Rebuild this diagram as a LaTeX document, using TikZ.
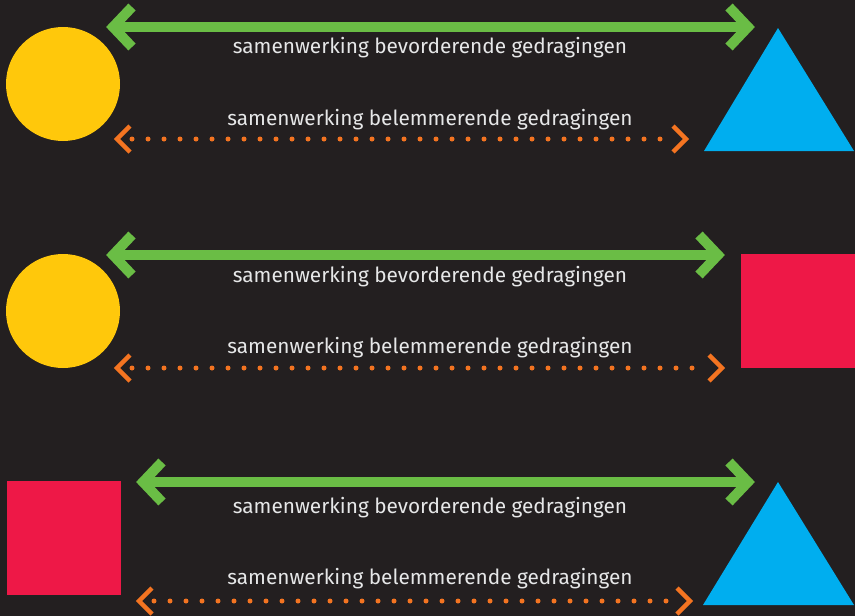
\documentclass[tikz,border=0pt]{standalone}
\usepackage{fontspec}
\setmainfont{Fira Sans}
\usetikzlibrary{calc}
\definecolor{bg}{HTML}{231F20}
\definecolor{grn}{HTML}{6ABD45}
\definecolor{org}{HTML}{F47421}
\definecolor{ylw}{HTML}{FFC80B}
\definecolor{blu}{HTML}{00AEEF}
\definecolor{rd}{HTML}{EE1847}
\definecolor{txt}{HTML}{E6E7E8}
\tikzset{
  label text/.style={text=txt, font=\fontsize{20.8}{24}\selectfont, anchor=base, inner sep=0pt},
  green line/.style={draw=grn, line width=10pt, miter limit=10, line join=miter},
  orange line/.style={draw=org, line width=4.5pt, miter limit=10, line join=miter},
  dotted row/.style={draw=org, line width=5pt, line cap=round, dash pattern=on 0pt off 16pt},
}
% green two-headed arrow between coordinates #1 (left tip) and #2 (right tip)
\newcommand{\greenarrow}[2]{%
  \draw[green line] ([xshift=7pt]#1) -- ([xshift=-7pt]#2);
  \draw[green line] ([shift={(26pt,20pt)}]#1) -- ([xshift=7pt]#1) -- ([shift={(26pt,-20pt)}]#1);
  \draw[green line] ([shift={(-26pt,20pt)}]#2) -- ([xshift=-7pt]#2) -- ([shift={(-26pt,-20pt)}]#2);
}
% orange dotted two-headed arrow
\newcommand{\orangearrow}[2]{%
  \draw[orange line] ([shift={(16pt,13pt)}]#1) -- ([xshift=3pt]#1) -- ([shift={(16pt,-13pt)}]#1);
  \draw[orange line] ([shift={(-16pt,13pt)}]#2) -- ([xshift=-3pt]#2) -- ([shift={(-16pt,-13pt)}]#2);
  \draw[dotted row] ([xshift=18pt]#1) -- ([xshift=-20pt]#2);
}
\begin{document}
\begin{tikzpicture}[x=1pt,y=-1pt]
\fill[bg] (0,0) rectangle (855,616);
\useasboundingbox (0,0) rectangle (855,616);

% row 1: circle and triangle
\fill[ylw] (63,84) circle[radius=57];
\fill[blu] (778,28) -- (854,151) -- (704,151) -- cycle;
\coordinate (g1l) at (106,27);
\coordinate (g1r) at (755,27);
\coordinate (o1l) at (114,139);
\coordinate (o1r) at (689,139);
\greenarrow{g1l}{g1r}
\orangearrow{o1l}{o1r}
\node[label text] (t1a) at (430,53) {samenwerking bevorderende gedragingen};
\node[label text] (t1b) at (430,125) {samenwerking belemmerende gedragingen};

% row 2: circle and square
\fill[ylw] (63,311) circle[radius=57];
\fill[rd] (741,254) rectangle (855,368);
\coordinate (g2l) at (106,255);
\coordinate (g2r) at (725,255);
\coordinate (o2l) at (114,368);
\coordinate (o2r) at (725,368);
\greenarrow{g2l}{g2r}
\orangearrow{o2l}{o2r}
\node[label text] (t2a) at (430,282) {samenwerking bevorderende gedragingen};
\node[label text] (t2b) at (430,353) {samenwerking belemmerende gedragingen};

% row 3: square and triangle
\fill[rd] (7,481) rectangle (121,595);
\fill[blu] (778,482) -- (854,605) -- (703,605) -- cycle;
\coordinate (g3l) at (136,482);
\coordinate (g3r) at (755,482);
\coordinate (o3l) at (136,601);
\coordinate (o3r) at (693,601);
\greenarrow{g3l}{g3r}
\orangearrow{o3l}{o3r}
\node[label text] (t3a) at (430,513) {samenwerking bevorderende gedragingen};
\node[label text] (t3b) at (430,584) {samenwerking belemmerende gedragingen};
\end{tikzpicture}
\end{document}
